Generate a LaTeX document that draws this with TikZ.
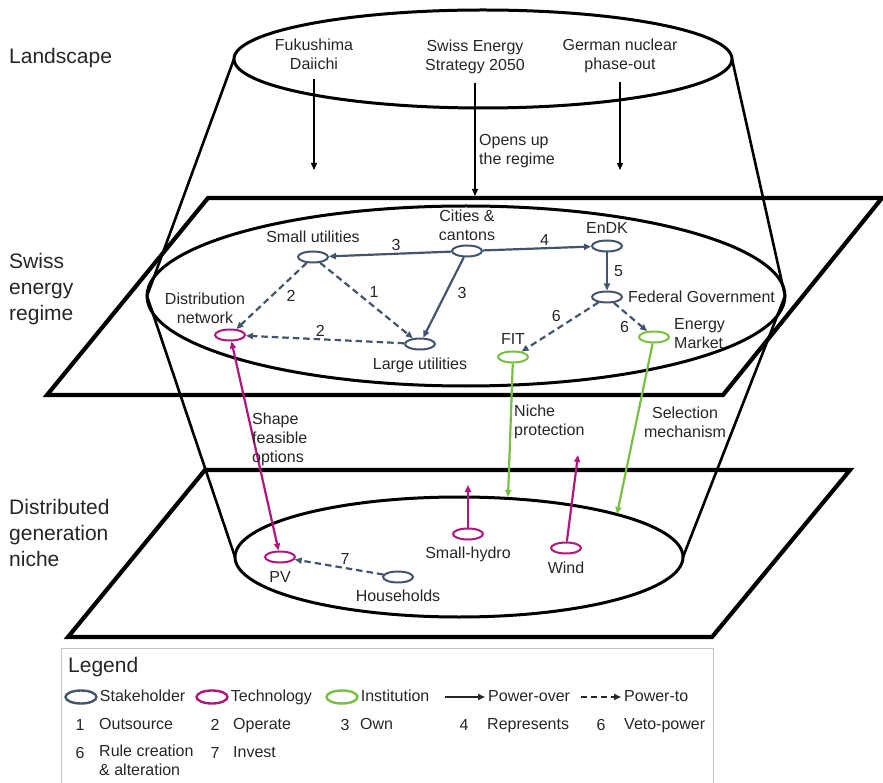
\documentclass[tikz,border=0pt]{standalone}
\usepackage{fontspec}
\setmainfont{Liberation Sans}
\usetikzlibrary{positioning,arrows.meta,shapes.geometric}
\usepackage{xcolor}
\definecolor{stakeBlue}{HTML}{44546A}
\definecolor{techPink}{HTML}{B0177D}
\definecolor{instGreen}{HTML}{77C043}
\definecolor{ink}{HTML}{262626}
\definecolor{legGray}{HTML}{C4C4C4}

\tikzset{
  actor/.style={ellipse, draw=stakeBlue, line width=2pt, minimum width=30pt, minimum height=11pt, inner sep=0pt},
  techno/.style={actor, draw=techPink},
  instit/.style={actor, draw=instGreen},
  legoval/.style={line width=2.4pt, minimum width=31pt, minimum height=13pt},
  lbl/.style={font=\fontsize{16}{19}\selectfont, text=ink, inner sep=1pt, align=center},
  legtxt/.style={lbl, anchor=west, align=left, text height=11.5pt, text depth=3.5pt},
  num/.style={font=\fontsize{16}{19}\selectfont, text=ink, inner sep=2pt},
  layerlbl/.style={font=\fontsize{21}{26}\selectfont, text=ink, anchor=west, align=left, inner sep=1pt},
  pover/.style={->, line width=2.2pt, draw=stakeBlue},
  pto/.style={pover, dash pattern=on 6.5pt off 4pt},
  techarr/.style={->, line width=2.2pt, draw=techPink},
  instarr/.style={->, line width=2.2pt, draw=instGreen},
  drop/.style={->, line width=1.4pt, draw=black, shorten <=8pt},
  layer/.style={line width=4.2pt, line join=miter},
  rim/.style={line width=3pt},
}

\begin{document}
\begin{tikzpicture}[x=1pt, y=-1pt, >={Triangle[length=7pt, width=6pt]}]
\useasboundingbox (0,0) rectangle (883,783);

\draw[layer] (47,395) -- (723,395) -- (882,198) -- (208,198) -- cycle;
\draw[layer] (68,637) -- (712,637) -- (850,470) -- (205,470) -- cycle;
\draw[rim] (483,59) ellipse [x radius=249pt, y radius=49pt];
\draw[rim] (466,296) ellipse [x radius=319pt, y radius=90pt];
\draw[rim] (459,557) ellipse [x radius=224pt, y radius=60pt];
\draw[line width=2.6pt, line join=round] (234,59) -- (147,296) -- (235,557);
\draw[line width=2.6pt, line join=round] (732,59) -- (785,296) -- (683,557);

\node[layerlbl] (landscape) at (8,58) {Landscape};
\node[layerlbl] (regimelbl) at (8,289) {Swiss\\energy\\regime};
\node[layerlbl] (nichelbl) at (8,533) {Distributed\\generation\\niche};

\node[lbl] (fuku) at (314,54) {Fukushima\\Daiichi};
\node[lbl] (strategy) at (475,57) {Swiss Energy\\Strategy 2050};
\node[lbl] (german) at (620,56) {German nuclear\\phase-out};
\coordinate (fukuend) at (314,170);
\coordinate (strategyend) at (475,196);
\coordinate (germanend) at (620,170);
\draw[drop] (fuku) -- (fukuend);
\draw[drop] (strategy) -- (strategyend);
\draw[drop] (german) -- (germanend);
\node[lbl, anchor=west, align=left] (opens) at (478,151) {Opens up\\the regime};

\node[actor] (smallut) at (313,257) {};
\node[actor] (cities) at (467,251) {};
\node[actor] (endk) at (607,246) {};
\node[actor] (fedgov) at (607,297) {};
\node[techno] (distnet) at (230,335) {};
\node[actor] (largeut) at (420,344) {};
\node[instit] (fit) at (513,357) {};
\node[instit] (market) at (654,337) {};
\node[lbl, above=7pt of smallut] (smallutlbl) {Small utilities};
\node[lbl, above=3pt of cities] (citieslbl) {Cities \&\\cantons};
\node[lbl, above=5pt of endk] (endklbl) {EnDK};
\node[lbl, right=4pt of fedgov] (fedgovlbl) {Federal Government};
\node[lbl, above=4pt of distnet, xshift=-25pt] (distnetlbl) {Distribution\\network};
\node[lbl, below=6pt of largeut] (largeutlbl) {Large utilities};
\node[lbl, above=5pt of fit] (fitlbl) {FIT};
\node[lbl, right=3pt of market, align=left, yshift=3pt] (marketlbl) {Energy\\Market};

\draw[pover] (cities) -- node[num, above, pos=0.45] {3} (smallut);
\draw[pover] (cities) -- node[num, above, pos=0.57] {4} (endk);
\draw[pover] (cities) -- node[num, right=9pt, pos=0.45] {3} (largeut);
\draw[pover] (endk) -- node[num, right=4pt] {5} (fedgov);
\draw[pto] (smallut) -- node[num, right=12pt] {2} (distnet);
\draw[pto] (smallut) -- node[num, above right] {1} (largeut);
\draw[pto] (largeut) -- node[num, above, pos=0.53] {2} (distnet);
\draw[pto] (fedgov) -- node[num, above left, pos=0.45] {6} (fit);
\draw[pto] (fedgov) -- node[num, below left, pos=0.55] {6} (market);

\node[techno] (pv) at (280,557) {};
\node[actor] (households) at (398,577) {};
\node[techno] (hydro) at (468,534) {};
\node[techno] (wind) at (566,548) {};
\node[lbl, below=7pt of pv] (pvlbl) {PV};
\node[lbl, below=5pt of households] (householdslbl) {Households};
\node[lbl, below=5pt of hydro] (hydrolbl) {Small-hydro};
\node[lbl, below=6pt of wind] (windlbl) {Wind};
\draw[pto] (households) -- node[num, above, pos=0.43] {7} (pv);

\draw[techarr, <->] (distnet) -- (pv);
\coordinate (hydrotip) at (468,485);
\coordinate (windtip) at (578,455);
\draw[techarr] (hydro) -- (hydrotip);
\draw[techarr] (wind) -- (windtip);
\coordinate (fittip) at (508,497);
\coordinate (markettip) at (617,514);
\draw[instarr] (fit) -- (fittip);
\draw[instarr] (market) -- (markettip);
\node[lbl, anchor=west, align=left] (shapelbl) at (251,439) {Shape\\feasible\\options};
\node[lbl, anchor=west, align=left] (nicheprot) at (513,422) {Niche\\protection};
\node[lbl] (selmech) at (685,422) {Selection\\mechanism};

\draw[legGray, line width=1pt] (61,648) rectangle (713,790);
\node[layerlbl] (legtitle) at (67,667) {Legend};
\node[actor, legoval] (legstake) at (81,697) {};
\node[legtxt, right=1pt of legstake] (legstaketxt) {Stakeholder};
\node[techno, legoval] (legtech) at (212,697) {};
\node[legtxt, right=1pt of legtech] (legtechtxt) {Technology};
\node[instit, legoval] (leginst) at (342,697) {};
\node[legtxt, right=1pt of leginst] (leginsttxt) {Institution};
\coordinate (povA) at (445,697);
\coordinate (povB) at (485,697);
\draw[->, line width=1.8pt, draw=ink] (povA) -- (povB);
\node[legtxt] (povtxt) at (487,697) {Power-over};
\coordinate (ptoA) at (581,697);
\coordinate (ptoB) at (621,697);
\draw[->, line width=1.8pt, draw=ink, dash pattern=on 6pt off 4pt] (ptoA) -- (ptoB);
\node[legtxt] (ptotxt) at (623,697) {Power-to};

\node[num] (leg1) at (80,725) {1};
\node[legtxt] (leg1txt) at (98,725) {Outsource};
\node[num] (leg2) at (215,725) {2};
\node[legtxt] (leg2txt) at (232,725) {Operate};
\node[num] (leg3) at (345,725) {3};
\node[legtxt] (leg3txt) at (359,725) {Own};
\node[num] (leg4) at (464,725) {4};
\node[legtxt] (leg4txt) at (486,725) {Represents};
\node[num] (leg6a) at (601,725) {6};
\node[legtxt] (leg6atxt) at (623,725) {Veto-power};
\node[num] (leg6b) at (80,753) {6};
\node[lbl, anchor=north west, align=left] (leg6btxt) at (98,744) {Rule creation\\\& alteration};
\node[num] (leg7) at (215,753) {7};
\node[legtxt] (leg7txt) at (232,753) {Invest};
\end{tikzpicture}
\end{document}
